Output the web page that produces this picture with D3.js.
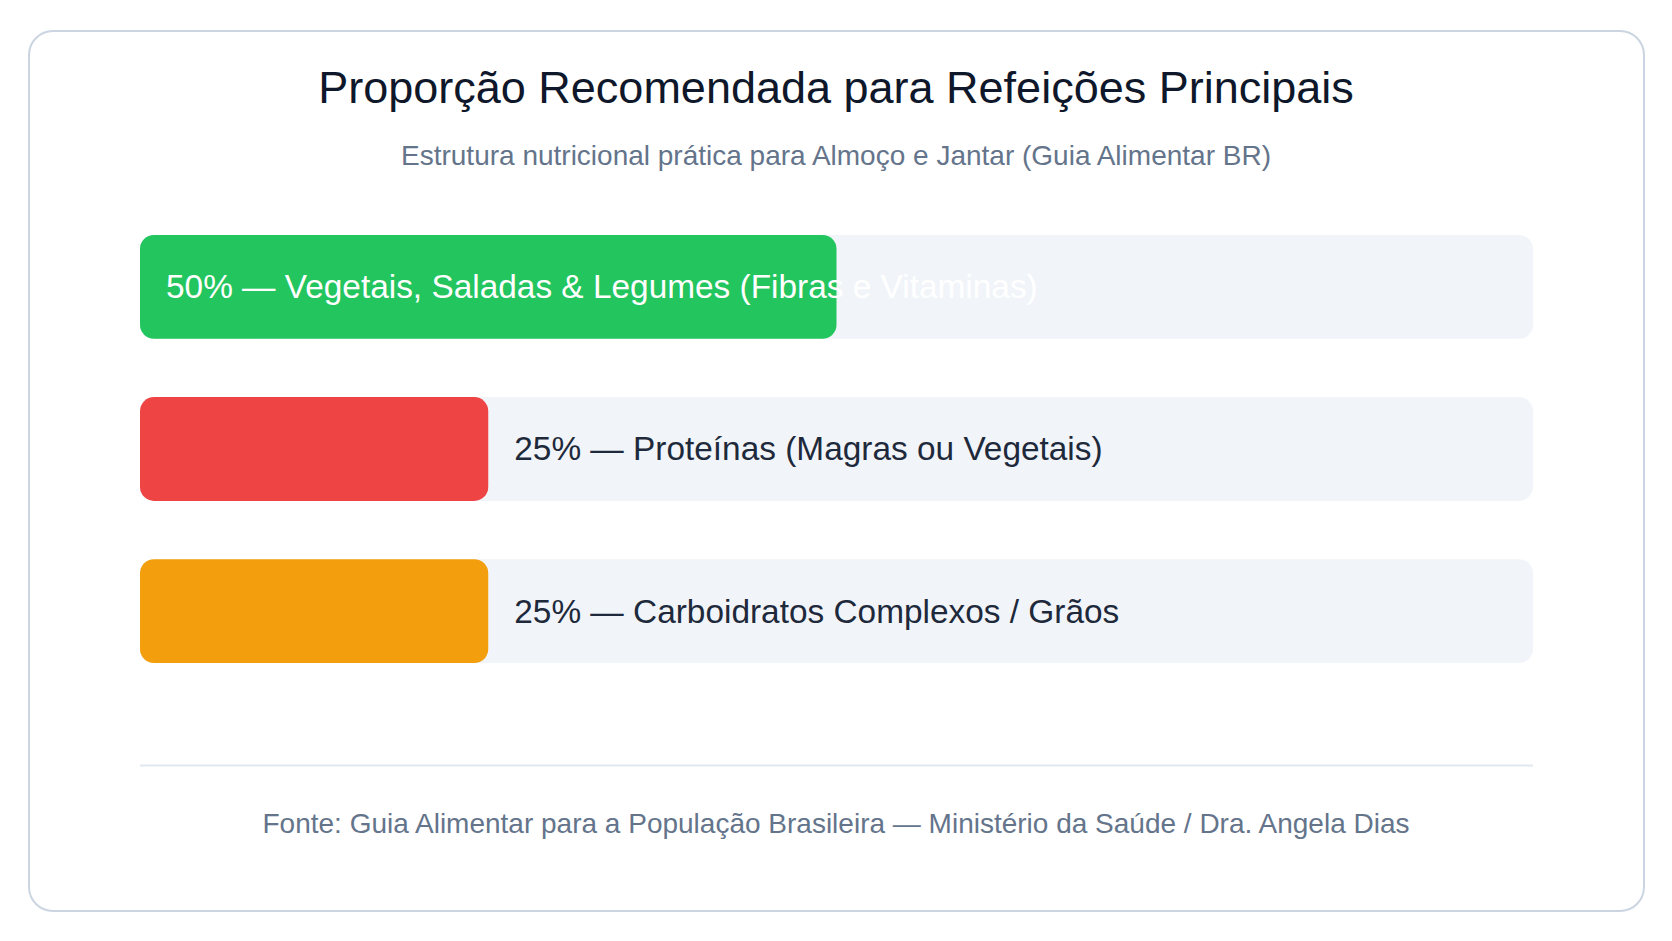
<!DOCTYPE html>
<html lang="pt-BR">
<head>
<meta charset="utf-8">
<title>Proporção Recomendada para Refeições Principais</title>
<script src="https://cdn.jsdelivr.net/npm/d3@7"></script>
<style>
	html, body { margin: 0; padding: 0; background: #ffffff; }
	svg { display: block; font-family: "Liberation Sans", Arial, Helvetica, sans-serif; }
</style>
</head>
<body>
<div id="chart"></div>
<script>
// ---- data ------------------------------------------------------------
const categories = [
	"Vegetais, Saladas & Legumes (Fibras e Vitaminas)",
	"Proteínas (Magras ou Vegetais)",
	"Carboidratos Complexos / Grãos",
];
const shares = [50, 25, 25];
const colors = ["#22c55e", "#ef4444", "#f39e0c"];

const title = "Proporção Recomendada para Refeições Principais";
const subtitle = "Estrutura nutricional prática para Almoço e Jantar (Guia Alimentar BR)";
const source = "Fonte: Guia Alimentar para a População Brasileira — Ministério da Saúde / Dra. Angela Dias";

const rows = categories.map((c, i) => ({ name: c, value: shares[i], color: colors[i] }));

// ---- layout ----------------------------------------------------------
const WIDTH = 1672;
const HEIGHT = 941;
const CARD = { x: 29, y: 31, w: 1615, h: 880 };
const PLOT = { left: 140, right: 1533, top: 235, bottom: 663 };

const svg = d3.select("#chart")
	.append("svg")
	.attr("width", WIDTH)
	.attr("height", HEIGHT)
	.attr("viewBox", `0 0 ${WIDTH} ${HEIGHT}`);

svg.append("rect")
	.attr("x", CARD.x)
	.attr("y", CARD.y)
	.attr("width", CARD.w)
	.attr("height", CARD.h)
	.attr("rx", 24)
	.attr("fill", "#ffffff")
	.attr("stroke", "#cbd5e1")
	.attr("stroke-width", 2);

const cx = 836;

svg.append("text")
	.attr("x", cx)
	.attr("y", 103)
	.attr("text-anchor", "middle")
	.attr("font-size", 45)
	.attr("fill", "#0f172a")
	.text(title);

svg.append("text")
	.attr("x", cx)
	.attr("y", 165)
	.attr("text-anchor", "middle")
	.attr("font-size", 28)
	.attr("fill", "#64748b")
	.text(subtitle);

// ---- scales ----------------------------------------------------------
const x = d3.scaleLinear()
	.domain([0, 100])
	.range([PLOT.left, PLOT.right]);

const y = d3.scaleBand()
	.domain(categories)
	.range([PLOT.top, PLOT.bottom])
	.paddingInner(0.36)
	.paddingOuter(0);

const bars = svg.append("g")
	.selectAll("g")
	.data(rows)
	.join("g")
	.attr("transform", d => `translate(0,${y(d.name)})`);

// background track
bars.append("rect")
	.attr("x", x(0))
	.attr("width", x(100) - x(0))
	.attr("height", y.bandwidth())
	.attr("rx", 14)
	.attr("fill", "#f1f5f9");

// filled share
bars.append("rect")
	.attr("x", x(0))
	.attr("width", d => x(d.value) - x(0))
	.attr("height", y.bandwidth())
	.attr("rx", 14)
	.attr("fill", d => d.color);

// labels: inside (white) for the big share, after the bar otherwise
bars.append("text")
	.attr("x", d => (d.value >= 50 ? x(0) : x(d.value)) + 26)
	.attr("y", y.bandwidth() / 2)
	.attr("dominant-baseline", "central")
	.attr("font-size", 33.4)
	.attr("fill", d => (d.value >= 50 ? "#ffffff" : "#1e293b"))
	.text(d => `${d.value}% — ${d.name}`);

// ---- footer ----------------------------------------------------------
svg.append("line")
	.attr("x1", PLOT.left)
	.attr("x2", PLOT.right)
	.attr("y1", 765.5)
	.attr("y2", 765.5)
	.attr("stroke", "#e2e8f0")
	.attr("stroke-width", 2);

svg.append("text")
	.attr("x", cx)
	.attr("y", 833)
	.attr("text-anchor", "middle")
	.attr("font-size", 28)
	.attr("fill", "#64748b")
	.text(source);
</script>
</body>
</html>
